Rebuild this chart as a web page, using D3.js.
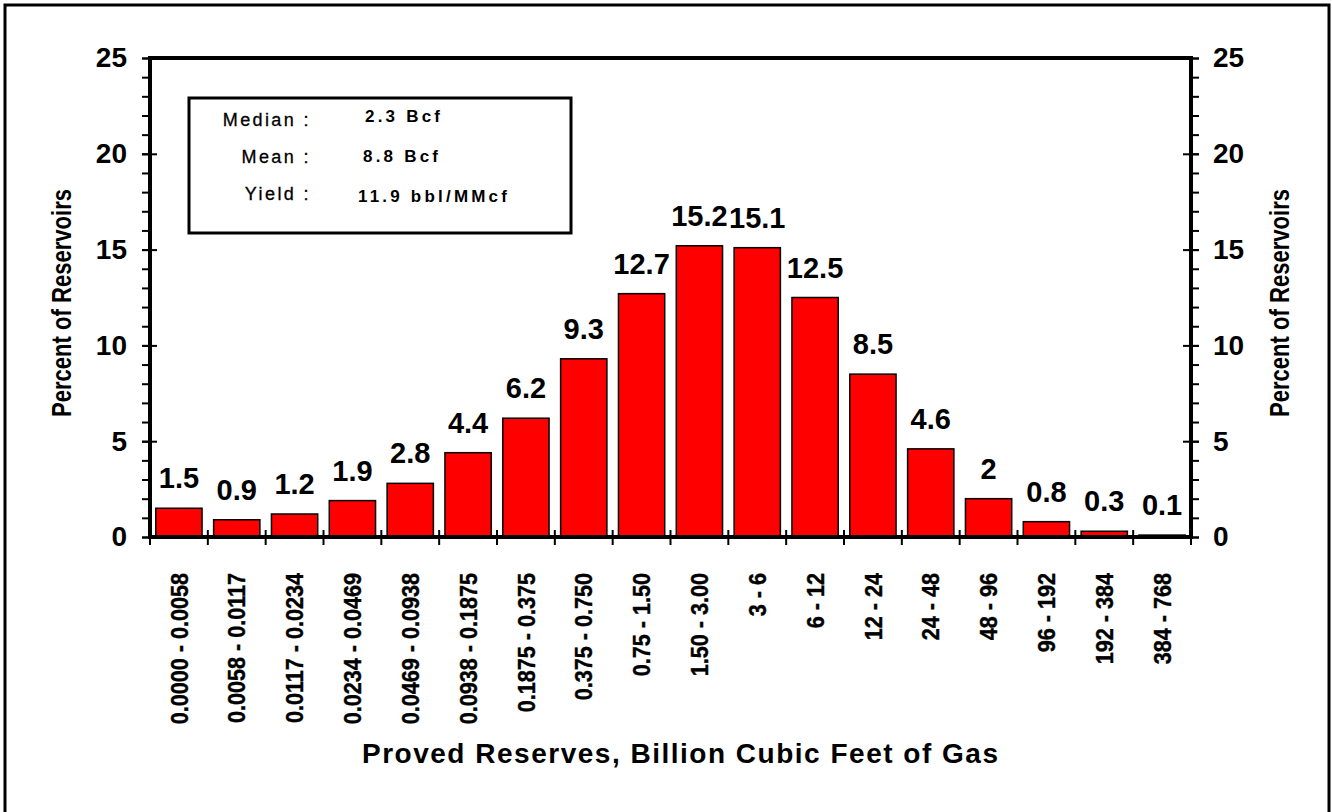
<!DOCTYPE html>
<html>
<head>
<meta charset="utf-8">
<script src="https://cdn.jsdelivr.net/npm/d3@7"></script>
<style>
  body { margin: 0; background: #fff; }
  text { font-family: "Liberation Sans", Arial, sans-serif; font-weight: bold; fill: #000; }
</style>
</head>
<body>
<svg id="chart" width="1332" height="812"></svg>
<script>
// reserve size classes, Bcf
const categories = ["0.0000 - 0.0058", "0.0058 - 0.0117", "0.0117 - 0.0234", "0.0234 - 0.0469",
  "0.0469 - 0.0938", "0.0938 - 0.1875", "0.1875 - 0.375", "0.375 - 0.750", "0.75 - 1.50",
  "1.50 - 3.00", "3 - 6", "6 - 12", "12 - 24", "24 - 48", "48 - 96", "96 - 192", "192 - 384", "384 - 768"];
// percent of reservoirs
const percents = [1.5, 0.9, 1.2, 1.9, 2.8, 4.4, 6.2, 9.3, 12.7, 15.2, 15.1, 12.5, 8.5, 4.6, 2, 0.8, 0.3, 0.1];
const yTicks = [0, 5, 10, 15, 20, 25];
const statLabels = ["Median :", "Mean :", "Yield :"];
const statValues = ["2.3 Bcf", "8.8 Bcf", "11.9 bbl/MMcf"];

const plotL = 150, plotR = 1191, plotT = 58, plotB = 537;

let svg = d3.select("#chart");

// outer frame (bottom edge runs off the picture)
svg.append("path")
  .attr("d", "M5,820 V5 H1329 V820")
  .attr("fill", "none").attr("stroke", "#000").attr("stroke-width", 3);

let x = d3.scaleBand()
  .domain(categories)
  .range([plotL, plotR])
  .paddingInner(0.2)
  .paddingOuter(0.1);
let step = x.step();
let y = d3.scaleLinear().domain([0, 25]).range([plotB, plotT]);

// bars
svg.selectAll("rect.bar")
  .data(percents)
  .enter().append("rect")
  .attr("class", "bar")
  .attr("x", (d, i) => x(categories[i]))
  .attr("width", x.bandwidth())
  .attr("y", d => y(d))
  .attr("height", d => plotB - y(d))
  .attr("fill", "#ff0000")
  .attr("stroke", "#000")
  .attr("stroke-width", 1.5);

// value labels
svg.selectAll("text.val")
  .data(percents)
  .enter().append("text")
  .attr("class", "val")
  .attr("x", (d, i) => x(categories[i]) + x.bandwidth() / 2)
  .attr("y", d => y(d) - 20)
  .attr("text-anchor", "middle")
  .style("font-size", "29px")
  .text(d => d);

// y axes: minor ticks outside, major ticks cross the line
let minor = d3.range(0, 26);
svg.append("g").attr("transform", "translate(" + plotL + ",0)")
  .call(d3.axisLeft(y).tickValues(minor).tickSize(8).tickFormat(""));
svg.append("g").attr("transform", "translate(" + plotL + ",0)")
  .call(d3.axisRight(y).tickValues(yTicks.slice(0, 5)).tickSize(7).tickFormat(""));
svg.append("g").attr("class", "yl").attr("transform", "translate(" + plotL + ",0)")
  .call(d3.axisLeft(y).tickValues(yTicks).tickSize(8).tickPadding(15));

svg.append("g").attr("transform", "translate(" + plotR + ",0)")
  .call(d3.axisRight(y).tickValues(minor).tickSize(8).tickFormat(""));
svg.append("g").attr("transform", "translate(" + plotR + ",0)")
  .call(d3.axisLeft(y).tickValues(yTicks.slice(0, 5)).tickSize(8).tickFormat(""));
svg.append("g").attr("class", "yr").attr("transform", "translate(" + plotR + ",0)")
  .call(d3.axisRight(y).tickValues(yTicks).tickSize(8).tickPadding(14));

svg.selectAll(".domain").remove();
svg.selectAll(".tick line").attr("stroke", "#000").attr("stroke-width", 2);
svg.selectAll(".yl text, .yr text")
  .style("font-size", "28px")
  .style("font-family", "'Liberation Sans', Arial, sans-serif")
  .style("font-weight", "bold")
  .attr("fill", "#000");

// x ticks at class boundaries
let bounds = d3.range(categories.length + 1);
svg.selectAll("line.xt")
  .data(bounds)
  .enter().append("line")
  .attr("class", "xt")
  .attr("x1", i => plotL + i * step).attr("x2", i => plotL + i * step)
  .attr("y1", plotB - 7).attr("y2", plotB + 8)
  .attr("stroke", "#000").attr("stroke-width", 2);

// plot frame
svg.append("rect")
  .attr("x", plotL).attr("y", plotT)
  .attr("width", plotR - plotL).attr("height", plotB - plotT)
  .attr("fill", "none").attr("stroke", "#000").attr("stroke-width", 4);

// x category labels (slightly condensed, like the original)
svg.selectAll("text.cat")
  .data(categories)
  .enter().append("text")
  .attr("class", "cat")
  .attr("transform", d => "translate(" + (x(d) + x.bandwidth() / 2) + ",573) rotate(-90) scale(0.9,1)")
  .attr("dy", "0.36em")
  .attr("text-anchor", "end")
  .style("font-size", "24px")
  .style("stroke", "#000").style("stroke-width", 0.4)
  .text(d => d);

// axis titles
svg.append("text")
  .attr("x", 680).attr("y", 763)
  .attr("text-anchor", "middle")
  .attr("textLength", 636).attr("lengthAdjust", "spacing")
  .style("font-size", "28px")
  .text("Proved Reserves, Billion Cubic Feet of Gas");

[71, 1289].forEach(cx => {
  svg.append("text")
    .attr("transform", "translate(" + cx + ",303) rotate(-90)")
    .attr("text-anchor", "middle")
    .attr("textLength", 228).attr("lengthAdjust", "spacingAndGlyphs")
    .style("font-size", "28px")
    .text("Percent of Reservoirs");
});

// stats box
svg.append("rect")
  .attr("x", 189).attr("y", 98)
  .attr("width", 382).attr("height", 135)
  .attr("fill", "#fff").attr("stroke", "#000").attr("stroke-width", 3);

let labelY = [126, 163, 200];
let valueY = [122, 162, 202];
svg.selectAll("text.sl")
  .data(statLabels)
  .enter().append("text")
  .attr("x", 311).attr("y", (d, i) => labelY[i])
  .attr("text-anchor", "end")
  .style("font-size", "18px").style("font-weight", "normal")
  .style("stroke", "#000").style("stroke-width", 0.3)
  .style("letter-spacing", "2.4px")
  .text(d => d);
svg.selectAll("text.sv")
  .data(statValues)
  .enter().append("text")
  .attr("x", (d, i) => [365, 363, 358][i]).attr("y", (d, i) => valueY[i])
  .style("font-size", "17px")
  .style("letter-spacing", "3.2px")
  .text(d => d);
</script>
</body>
</html>
